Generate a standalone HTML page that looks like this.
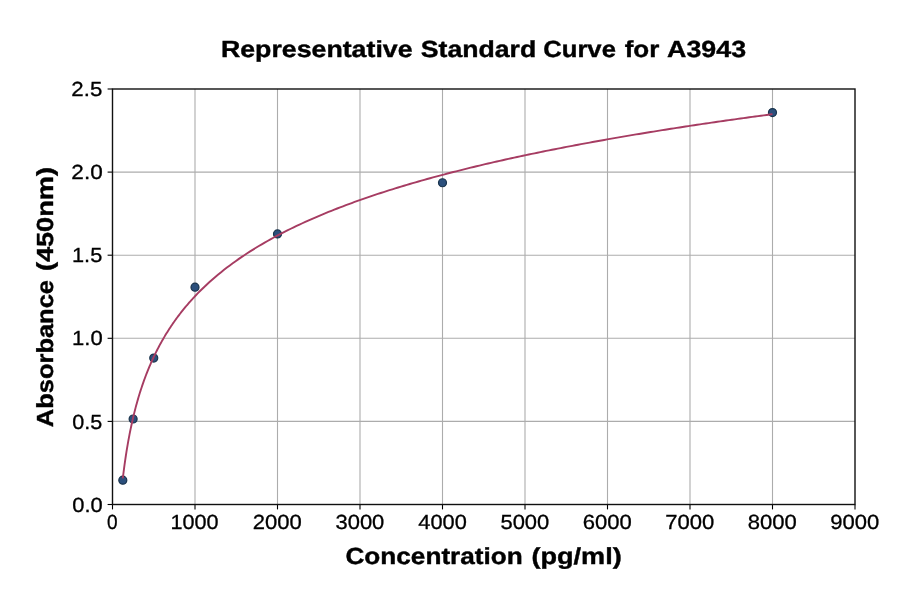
<!DOCTYPE html>
<html><head><meta charset="utf-8"><title>Representative Standard Curve for A3943</title>
<style>
html,body{margin:0;padding:0;background:#fff;}
body{width:900px;height:594px;overflow:hidden;font-family:"Liberation Sans",sans-serif;}
svg{display:block;will-change:transform;}
text{font-family:"Liberation Sans",sans-serif;fill:#000;text-rendering:geometricPrecision;}
.tk{font-size:20.4px;stroke:#000;stroke-width:0.3px;}
.bl{font-size:23.25px;font-weight:bold;stroke:#000;stroke-width:0.4px;}
.tt{font-size:23.25px;font-weight:bold;stroke:#000;stroke-width:0.4px;}
</style></head><body>
<svg width="900" height="594" viewBox="0 0 900 594">
<rect x="0" y="0" width="900" height="594" fill="#ffffff"/>

<g stroke="#acacac" stroke-width="1.1" fill="none">
<line x1="195.00" y1="89.0" x2="195.00" y2="504.5"/>
<line x1="277.50" y1="89.0" x2="277.50" y2="504.5"/>
<line x1="360.00" y1="89.0" x2="360.00" y2="504.5"/>
<line x1="442.50" y1="89.0" x2="442.50" y2="504.5"/>
<line x1="525.00" y1="89.0" x2="525.00" y2="504.5"/>
<line x1="607.50" y1="89.0" x2="607.50" y2="504.5"/>
<line x1="690.00" y1="89.0" x2="690.00" y2="504.5"/>
<line x1="772.50" y1="89.0" x2="772.50" y2="504.5"/>
<line x1="112.5" y1="421.40" x2="855.0" y2="421.40"/>
<line x1="112.5" y1="338.30" x2="855.0" y2="338.30"/>
<line x1="112.5" y1="255.20" x2="855.0" y2="255.20"/>
<line x1="112.5" y1="172.10" x2="855.0" y2="172.10"/>
</g>
<g fill="#2b4f7c" stroke="#19334c" stroke-width="1.2">
<circle cx="122.81" cy="480.15" r="4.0"/>
<circle cx="133.12" cy="419.01" r="4.0"/>
<circle cx="153.75" cy="358.09" r="4.0"/>
<circle cx="195.00" cy="287.14" r="4.0"/>
<circle cx="277.50" cy="233.93" r="4.0"/>
<circle cx="442.50" cy="182.74" r="4.0"/>
<circle cx="772.50" cy="112.60" r="4.0"/>
</g>
<path d="M122.81,478.31 L123.42,473.31 L124.03,468.57 L124.63,464.08 L125.24,459.81 L125.85,455.74 L126.45,451.84 L127.06,448.12 L127.67,444.54 L128.27,441.11 L128.88,437.80 L129.49,434.62 L130.09,431.55 L130.70,428.58 L131.31,425.71 L131.91,422.93 L132.52,420.23 L133.12,417.62 L133.73,415.08 L134.34,412.62 L134.94,410.22 L135.55,407.88 L136.16,405.61 L136.76,403.39 L137.37,401.23 L137.98,399.12 L138.58,397.06 L139.19,395.04 L139.80,393.08 L140.40,391.15 L141.01,389.27 L141.62,387.43 L142.22,385.62 L142.83,383.85 L143.44,382.12 L144.04,380.42 L144.65,378.75 L145.26,377.11 L145.86,375.51 L146.47,373.93 L147.08,372.38 L147.68,370.86 L148.29,369.36 L148.90,367.89 L149.50,366.44 L150.11,365.02 L150.72,363.62 L151.32,362.24 L151.93,360.88 L152.54,359.54 L153.14,358.23 L153.75,356.93 L154.36,355.65 L154.96,354.39 L155.57,353.15 L156.18,351.92 L156.78,350.72 L157.39,349.52 L158.00,348.35 L158.60,347.19 L159.21,346.05 L159.82,344.92 L160.42,343.80 L161.03,342.70 L161.64,341.61 L162.24,340.54 L162.85,339.48 L163.46,338.43 L164.06,337.39 L164.67,336.37 L165.28,335.35 L165.88,334.35 L166.49,333.36 L167.10,332.39 L167.70,331.42 L168.31,330.46 L168.92,329.51 L169.52,328.58 L170.13,327.65 L170.74,326.73 L171.34,325.83 L171.95,324.93 L172.56,324.04 L173.16,323.16 L173.77,322.29 L174.38,321.43 L174.98,320.57 L175.59,319.73 L176.19,318.89 L176.80,318.06 L177.41,317.24 L178.01,316.42 L178.62,315.61 L179.23,314.82 L179.83,314.02 L180.44,313.24 L181.05,312.46 L181.65,311.69 L182.26,310.92 L182.87,310.16 L183.47,309.41 L184.08,308.67 L184.69,307.93 L185.29,307.20 L185.90,306.47 L186.51,305.75 L187.11,305.03 L187.72,304.33 L188.33,303.62 L188.93,302.92 L189.54,302.23 L190.15,301.55 L190.75,300.86 L191.36,300.19 L191.97,299.52 L192.57,298.85 L193.18,298.19 L193.79,297.53 L194.39,296.88 L195.00,296.24 L197.90,293.21 L200.80,290.28 L203.71,287.45 L206.61,284.71 L209.51,282.05 L212.41,279.47 L215.31,276.96 L218.22,274.53 L221.12,272.15 L224.02,269.85 L226.92,267.60 L229.82,265.40 L232.73,263.26 L235.63,261.18 L238.53,259.14 L241.43,257.14 L244.33,255.19 L247.24,253.29 L250.14,251.42 L253.04,249.59 L255.94,247.81 L258.84,246.05 L261.75,244.33 L264.65,242.65 L267.55,240.99 L270.45,239.37 L273.35,237.77 L276.26,236.21 L279.16,234.67 L282.06,233.16 L284.96,231.67 L287.86,230.21 L290.77,228.77 L293.67,227.36 L296.57,225.97 L299.47,224.60 L302.37,223.25 L305.28,221.92 L308.18,220.61 L311.08,219.33 L313.98,218.06 L316.88,216.80 L319.79,215.57 L322.69,214.35 L325.59,213.15 L328.49,211.97 L331.39,210.80 L334.30,209.64 L337.20,208.51 L340.10,207.38 L343.00,206.27 L345.90,205.18 L348.81,204.10 L351.71,203.03 L354.61,201.97 L357.51,200.93 L360.41,199.90 L363.32,198.88 L366.22,197.87 L369.12,196.87 L372.02,195.89 L374.92,194.92 L377.83,193.95 L380.73,193.00 L383.63,192.06 L386.53,191.13 L389.43,190.20 L392.34,189.29 L395.24,188.39 L398.14,187.49 L401.04,186.61 L403.94,185.73 L406.85,184.87 L409.75,184.01 L412.65,183.16 L415.55,182.31 L418.45,181.48 L421.36,180.65 L424.26,179.83 L427.16,179.02 L430.06,178.22 L432.96,177.42 L435.87,176.63 L438.77,175.85 L441.67,175.07 L444.57,174.31 L447.47,173.54 L450.38,172.79 L453.28,172.04 L456.18,171.30 L459.08,170.56 L461.98,169.83 L464.89,169.11 L467.79,168.39 L470.69,167.68 L473.59,166.97 L476.49,166.27 L479.40,165.57 L482.30,164.88 L485.20,164.20 L488.10,163.52 L491.01,162.85 L493.91,162.18 L496.81,161.51 L499.71,160.86 L502.61,160.20 L505.52,159.55 L508.42,158.91 L511.32,158.27 L514.22,157.63 L517.12,157.00 L520.03,156.38 L522.93,155.76 L525.83,155.14 L528.73,154.53 L531.63,153.92 L534.54,153.31 L537.44,152.71 L540.34,152.12 L543.24,151.53 L546.14,150.94 L549.05,150.36 L551.95,149.77 L554.85,149.20 L557.75,148.63 L560.65,148.06 L563.56,147.49 L566.46,146.93 L569.36,146.37 L572.26,145.82 L575.16,145.27 L578.07,144.72 L580.97,144.18 L583.87,143.63 L586.77,143.10 L589.67,142.56 L592.58,142.03 L595.48,141.50 L598.38,140.98 L601.28,140.46 L604.18,139.94 L607.09,139.43 L609.99,138.91 L612.89,138.40 L615.79,137.90 L618.69,137.39 L621.60,136.89 L624.50,136.40 L627.40,135.90 L630.30,135.41 L633.20,134.92 L636.11,134.43 L639.01,133.95 L641.91,133.47 L644.81,132.99 L647.71,132.51 L650.62,132.04 L653.52,131.57 L656.42,131.10 L659.32,130.63 L662.22,130.17 L665.13,129.71 L668.03,129.25 L670.93,128.79 L673.83,128.34 L676.73,127.89 L679.64,127.44 L682.54,126.99 L685.44,126.55 L688.34,126.11 L691.24,125.67 L694.15,125.23 L697.05,124.79 L699.95,124.36 L702.85,123.93 L705.75,123.50 L708.66,123.07 L711.56,122.65 L714.46,122.22 L717.36,121.80 L720.26,121.38 L723.17,120.97 L726.07,120.55 L728.97,120.14 L731.87,119.73 L734.77,119.32 L737.68,118.91 L740.58,118.50 L743.48,118.10 L746.38,117.70 L749.28,117.30 L752.19,116.90 L755.09,116.50 L757.99,116.11 L760.89,115.72 L763.79,115.33 L766.70,114.94 L769.60,114.55 L772.50,114.16" fill="none" stroke="#a63c62" stroke-width="1.9" stroke-linecap="butt" stroke-linejoin="round"/>
<g stroke="#000" stroke-width="1.1" fill="none">
<line x1="112.50" y1="504.5" x2="112.50" y2="509.4"/>
<line x1="195.00" y1="504.5" x2="195.00" y2="509.4"/>
<line x1="277.50" y1="504.5" x2="277.50" y2="509.4"/>
<line x1="360.00" y1="504.5" x2="360.00" y2="509.4"/>
<line x1="442.50" y1="504.5" x2="442.50" y2="509.4"/>
<line x1="525.00" y1="504.5" x2="525.00" y2="509.4"/>
<line x1="607.50" y1="504.5" x2="607.50" y2="509.4"/>
<line x1="690.00" y1="504.5" x2="690.00" y2="509.4"/>
<line x1="772.50" y1="504.5" x2="772.50" y2="509.4"/>
<line x1="855.00" y1="504.5" x2="855.00" y2="509.4"/>
<line x1="107.6" y1="504.50" x2="112.5" y2="504.50"/>
<line x1="107.6" y1="421.40" x2="112.5" y2="421.40"/>
<line x1="107.6" y1="338.30" x2="112.5" y2="338.30"/>
<line x1="107.6" y1="255.20" x2="112.5" y2="255.20"/>
<line x1="107.6" y1="172.10" x2="112.5" y2="172.10"/>
<line x1="107.6" y1="89.00" x2="112.5" y2="89.00"/>
</g>
<rect x="112.5" y="89.0" width="742.5" height="415.5" fill="none" stroke="#101010" stroke-width="1.4"/>
<text class="tk" x="107.06" y="528.9" textLength="10.58" lengthAdjust="spacingAndGlyphs">0</text>
<text class="tk" x="170.58" y="528.9" textLength="48.06" lengthAdjust="spacingAndGlyphs">1000</text>
<text class="tk" x="252.75" y="528.9" textLength="49.06" lengthAdjust="spacingAndGlyphs">2000</text>
<text class="tk" x="335.5" y="528.9" textLength="48.81" lengthAdjust="spacingAndGlyphs">3000</text>
<text class="tk" x="418.37" y="528.9" textLength="48.43" lengthAdjust="spacingAndGlyphs">4000</text>
<text class="tk" x="500.43" y="528.9" textLength="48.87" lengthAdjust="spacingAndGlyphs">5000</text>
<text class="tk" x="582.75" y="528.9" textLength="49.06" lengthAdjust="spacingAndGlyphs">6000</text>
<text class="tk" x="665.25" y="528.9" textLength="49.06" lengthAdjust="spacingAndGlyphs">7000</text>
<text class="tk" x="747.72" y="528.9" textLength="49.04" lengthAdjust="spacingAndGlyphs">8000</text>
<text class="tk" x="830.16" y="528.9" textLength="49.0" lengthAdjust="spacingAndGlyphs">9000</text>
<text class="tk" x="72.26" y="511.65" textLength="30.41" lengthAdjust="spacingAndGlyphs">0.0</text>
<text class="tk" x="72.27" y="428.55" textLength="30.03" lengthAdjust="spacingAndGlyphs">0.5</text>
<text class="tk" x="72.01" y="345.45" textLength="30.67" lengthAdjust="spacingAndGlyphs">1.0</text>
<text class="tk" x="72.03" y="262.35" textLength="30.27" lengthAdjust="spacingAndGlyphs">1.5</text>
<text class="tk" x="71.36" y="179.25" textLength="31.34" lengthAdjust="spacingAndGlyphs">2.0</text>
<text class="tk" x="71.38" y="96.15" textLength="30.95" lengthAdjust="spacingAndGlyphs">2.5</text>
<text class="tt" x="220.92" y="56.9" textLength="191.63" lengthAdjust="spacingAndGlyphs">Representative</text>
<text class="tt" x="420.83" y="56.9" textLength="115.4" lengthAdjust="spacingAndGlyphs">Standard</text>
<text class="tt" x="543.21" y="56.9" textLength="72.7" lengthAdjust="spacingAndGlyphs">Curve</text>
<text class="tt" x="624.67" y="56.9" textLength="34.62" lengthAdjust="spacingAndGlyphs">for</text>
<text class="tt" x="667.11" y="56.9" textLength="78.98" lengthAdjust="spacingAndGlyphs">A3943</text>
<text class="bl" x="345.49" y="563.8" textLength="177.26" lengthAdjust="spacingAndGlyphs">Concentration</text>
<text class="bl" x="531.45" y="563.8" textLength="90.31" lengthAdjust="spacingAndGlyphs">(pg/ml)</text>
<g transform="translate(53.2,426.5) rotate(-90)">
<text class="bl" x="-0.74" y="0" textLength="147.26" lengthAdjust="spacingAndGlyphs">Absorbance</text>
<text class="bl" x="155.4" y="0" textLength="104.1" lengthAdjust="spacingAndGlyphs">(450nm)</text>
</g>
</svg></body></html>
